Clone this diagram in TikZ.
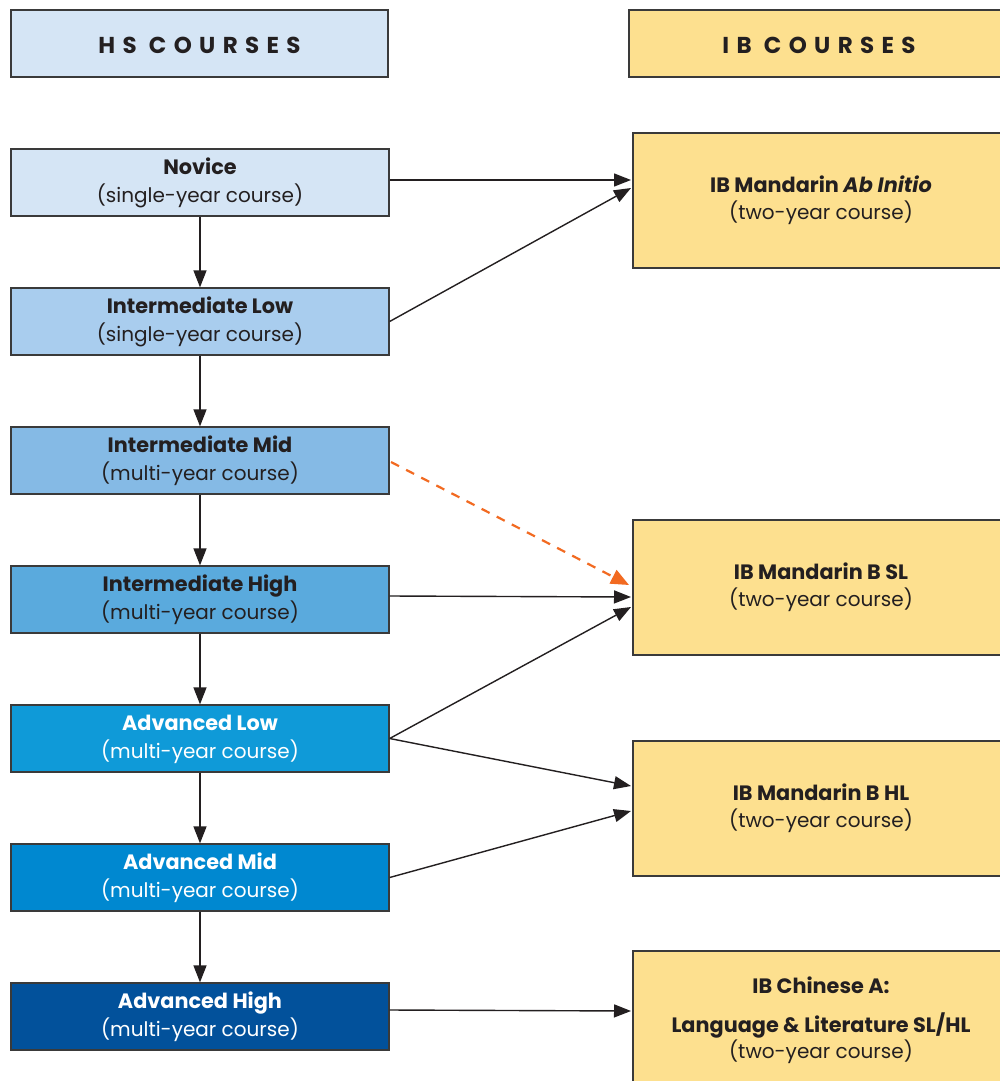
\documentclass[tikz,border=0pt]{standalone}
\usepackage{fontspec}
\setmainfont{Poppins}
\usetikzlibrary{arrows.meta}
\definecolor{hdrblue}{HTML}{D5E5F5}
\definecolor{ibyellow}{HTML}{FDE08F}
\definecolor{cA}{HTML}{D5E5F5}
\definecolor{cB}{HTML}{A9CDEE}
\definecolor{cC}{HTML}{85BAE5}
\definecolor{cD}{HTML}{5AAADD}
\definecolor{cE}{HTML}{0F9AD8}
\definecolor{cF}{HTML}{0088D0}
\definecolor{cG}{HTML}{02519B}
\definecolor{edge}{HTML}{3A3A3A}
\definecolor{txt}{HTML}{231F20}
\definecolor{orng}{HTML}{F26A21}
\newcommand{\bigb}[1]{{\fontsize{20.8}{28}\selectfont\bfseries #1}}
\newcommand{\twol}[2]{\raisebox{-3pt}{\begin{tabular}{@{}c@{}}\bigb{#1}\\#2\end{tabular}}}
\tikzset{
  hsbox/.style={draw=edge, line width=1.3pt, minimum width=378pt, minimum height=67pt, inner sep=0pt, align=center, text=txt, font=\fontsize{20}{28}\selectfont},
  ibbox/.style={draw=edge, line width=1.3pt, fill=ibyellow, minimum width=376pt, minimum height=135pt, inner sep=0pt, align=center, text=txt, font=\fontsize{20}{27}\selectfont},
  hdr/.style={draw=edge, line width=1.3pt, minimum height=67pt, inner sep=0pt, text height=21pt, text depth=0pt, text=txt, font=\fontsize{23}{28}\selectfont\bfseries\addfontfeatures{LetterSpace=32}},
  conn/.style={draw=txt, line width=1.4pt, -{Triangle[length=17pt,width=13pt]}},
  dconn/.style={draw=orng, line width=2.2pt, dash pattern=on 9pt off 8pt, -{Triangle[length=18pt,width=15pt]}}
}
\begin{document}
\begin{tikzpicture}[x=1pt,y=-1pt]
\clip (0,0) rectangle (1000,1081);
\fill[white] (0,0) rectangle (1000,1081);
% headers
\node[hdr, fill=hdrblue, minimum width=377pt] (hshdr) at (199.5,43.5) {HS COURSES};
\node[hdr, fill=ibyellow, minimum width=380pt] (ibhdr) at (819,43.5) {IB COURSES};
% HS boxes
\node[hsbox, fill=cA] (nov) at (200,182.5) {\twol{Novice}{(single-year course)}};
\node[hsbox, fill=cB] (il) at (200,321.5) {\twol{Intermediate Low}{(single-year course)}};
\node[hsbox, fill=cC] (im) at (200,460.5) {\twol{Intermediate Mid}{(multi-year course)}};
\node[hsbox, fill=cD] (ih) at (200,599.5) {\twol{Intermediate High}{(multi-year course)}};
\node[hsbox, fill=cE, text=white] (al) at (200,738.5) {\twol{Advanced Low}{(multi-year course)}};
\node[hsbox, fill=cF, text=white] (am) at (200,877.5) {\twol{Advanced Mid}{(multi-year course)}};
\node[hsbox, fill=cG, text=white] (ah) at (200,1016.5) {\twol{Advanced High}{(multi-year course)}};
% IB boxes
\node[ibbox] (ab) at (821,200.5) {\twol{IB Mandarin \textit{Ab Initio}}{(two-year course)}};
\node[ibbox] (bsl) at (821,587.5) {\twol{IB Mandarin B SL}{(two-year course)}};
\node[ibbox] (bhl) at (821,808.5) {\twol{IB Mandarin B HL}{(two-year course)}};
\node[ibbox, minimum height=140pt, font=\fontsize{20}{26}\selectfont] (chA) at (821,1021) {\raisebox{-1.5pt}{\begin{tabular}{@{}c@{}}\bigb{IB Chinese A:}\\[11pt]\bigb{Language \& Literature SL/HL}\\(two-year course)\end{tabular}}};
% vertical arrows
\draw[conn] (nov.south) -- (il.north);
\draw[conn] (il.south) -- (im.north);
\draw[conn] (im.south) -- (ih.north);
\draw[conn] (ih.south) -- (al.north);
\draw[conn] (al.south) -- (am.north);
\draw[conn] (am.south) -- (ah.north);
% horizontal arrows
\coordinate (abin1) at (631,180);
\coordinate (abin2) at (631,188);
\coordinate (bslin0) at (629,585);
\coordinate (bslin1) at (631,597);
\coordinate (bslin2) at (631,607);
\coordinate (bhlin1) at (631,786);
\coordinate (bhlin2) at (631,811);
\coordinate (chAin) at (631,1011);
\draw[conn] (nov.east |- 0,180) -- (abin1);
\draw[conn] (il.east) -- (abin2);
\draw[dconn] (391,462) -- (bslin0);
\draw[conn] (ih.east |- 0,596) -- (bslin1);
\draw[conn] (al.east) -- (bslin2);
\draw[conn] (al.east) -- (bhlin1);
\draw[conn] (am.east) -- (bhlin2);
\draw[conn] (ah.east |- 0,1010) -- (chAin);
\end{tikzpicture}
\end{document}
